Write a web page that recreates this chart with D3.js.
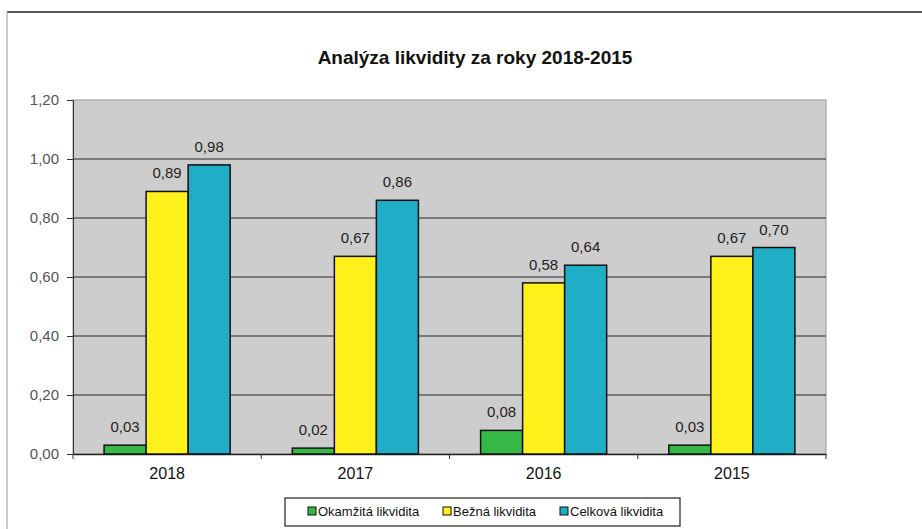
<!DOCTYPE html>
<html>
<head>
<meta charset="utf-8">
<script src="https://cdn.jsdelivr.net/npm/d3@7"></script>
<style>
  body { margin: 0; background: #fff; }
  text { font-family: "Liberation Sans", Arial, sans-serif; }
</style>
</head>
<body>
<div id="chart"></div>
<script>
// chart data
let years = ["2018", "2017", "2016", "2015"];
let seriesNames = ["Okamžitá likvidita", "Bežná likvidita", "Celková likvidita"];
let okamzita = [0.03, 0.02, 0.08, 0.03];
let bezna = [0.89, 0.67, 0.58, 0.67];
let celkova = [0.98, 0.86, 0.64, 0.70];
let yTicks = [0, 0.2, 0.4, 0.6, 0.8, 1.0, 1.2];

let colors = ["#35b845", "#fff21c", "#20adc6"];

let width = 922;
let height = 529;
let plot = {left: 73, right: 826, top: 100, bottom: 454};

let svg = d3.select("#chart")
  .append("svg")
  .attr("width", width)
  .attr("height", height);

// outer frame of the scanned chart
svg.append("line")
  .attr("x1", 7).attr("x2", width).attr("y1", 12).attr("y2", 12)
  .style("stroke", "#222").style("stroke-width", 1.5);
svg.append("line")
  .attr("x1", 7).attr("x2", 7).attr("y1", 12).attr("y2", height)
  .style("stroke", "#bbb").style("stroke-width", 1.5);

// title
svg.append("text")
  .attr("x", 475)
  .attr("y", 64)
  .style("text-anchor", "middle")
  .style("font-size", "19px")
  .style("font-weight", "bold")
  .style("fill", "#111")
  .text("Analýza likvidity za roky 2018-2015");

let y = d3.scaleLinear()
  .domain([0, 1.2])
  .range([plot.bottom, plot.top]);

let x0 = d3.scaleBand()
  .domain(years)
  .range([plot.left, plot.right])
  .padding(0);

let x1 = d3.scaleBand()
  .domain(d3.range(seriesNames.length))
  .range([0, x0.bandwidth()])
  .paddingInner(0)
  .paddingOuter(0.74);

// plot background
svg.append("rect")
  .attr("x", plot.left)
  .attr("y", plot.top)
  .attr("width", plot.right - plot.left)
  .attr("height", plot.bottom - plot.top)
  .style("fill", "#cdcdcd")
  .style("stroke", "#999")
  .style("stroke-width", 1);

// gridlines
svg.append("g")
  .selectAll("line")
  .data(yTicks.slice(1, -1))
  .enter()
  .append("line")
  .attr("x1", plot.left)
  .attr("x2", plot.right)
  .attr("y1", d => y(d))
  .attr("y2", d => y(d))
  .style("stroke", "#2a2a2a")
  .style("stroke-width", 1.2);

let fmt = d => d3.format(".2f")(d).replace(".", ",");

// y axis
let yAxis = svg.append("g")
  .attr("transform", "translate(" + plot.left + ",0)")
  .call(d3.axisLeft(y).tickValues(yTicks).tickFormat(fmt).tickSize(6).tickPadding(8));
yAxis.select(".domain").style("stroke", "#333");
yAxis.selectAll(".tick line").style("stroke", "#333");
yAxis.selectAll("text")
  .style("font-size", "15px")
  .style("fill", "#555");

// x axis
let xAxis = svg.append("g")
  .attr("transform", "translate(0," + plot.bottom + ")")
  .call(d3.axisBottom(x0).tickSize(0).tickPadding(14));
xAxis.select(".domain").style("stroke", "#222").style("stroke-width", 1.5);
xAxis.selectAll("text")
  .style("font-size", "16px")
  .style("fill", "#111");

// category separators below axis
svg.append("g")
  .selectAll("line")
  .data(years.map(d => x0(d)).concat([plot.right]))
  .enter()
  .append("line")
  .attr("x1", d => d)
  .attr("x2", d => d)
  .attr("y1", plot.bottom)
  .attr("y2", plot.bottom + 5)
  .style("stroke", "#333");

let allSeries = [okamzita, bezna, celkova];
let bars = [];
years.forEach(function(yr, i) {
  allSeries.forEach(function(s, j) {
    bars.push({year: yr, series: j, value: s[i]});
  });
});

svg.append("g")
  .selectAll("rect")
  .data(bars)
  .enter()
  .append("rect")
  .attr("x", d => x0(d.year) + x1(d.series))
  .attr("y", d => y(d.value))
  .attr("width", x1.bandwidth())
  .attr("height", d => plot.bottom - y(d.value))
  .style("fill", d => colors[d.series])
  .style("stroke", "#111")
  .style("stroke-width", 1.5);

// value labels
svg.append("g")
  .selectAll("text")
  .data(bars)
  .enter()
  .append("text")
  .attr("x", d => x0(d.year) + x1(d.series) + x1.bandwidth() / 2)
  .attr("y", d => y(d.value) - 13)
  .style("text-anchor", "middle")
  .style("font-size", "15px")
  .style("fill", "#222")
  .text(d => fmt(d.value));

// legend
let legend = svg.append("g");
legend.append("rect")
  .attr("x", 285)
  .attr("y", 498)
  .attr("width", 395)
  .attr("height", 28)
  .style("fill", "#fff")
  .style("stroke", "#222")
  .style("stroke-width", 1.2);

let legendX = [308, 443, 560];
seriesNames.forEach(function(name, j) {
  legend.append("rect")
    .attr("x", legendX[j])
    .attr("y", 507)
    .attr("width", 8)
    .attr("height", 8)
    .style("fill", colors[j])
    .style("stroke", "#111")
    .style("stroke-width", 1);
  legend.append("text")
    .attr("x", legendX[j] + 10)
    .attr("y", 516)
    .style("font-size", "13px")
    .style("fill", "#111")
    .text(name);
});
</script>
</body>
</html>
